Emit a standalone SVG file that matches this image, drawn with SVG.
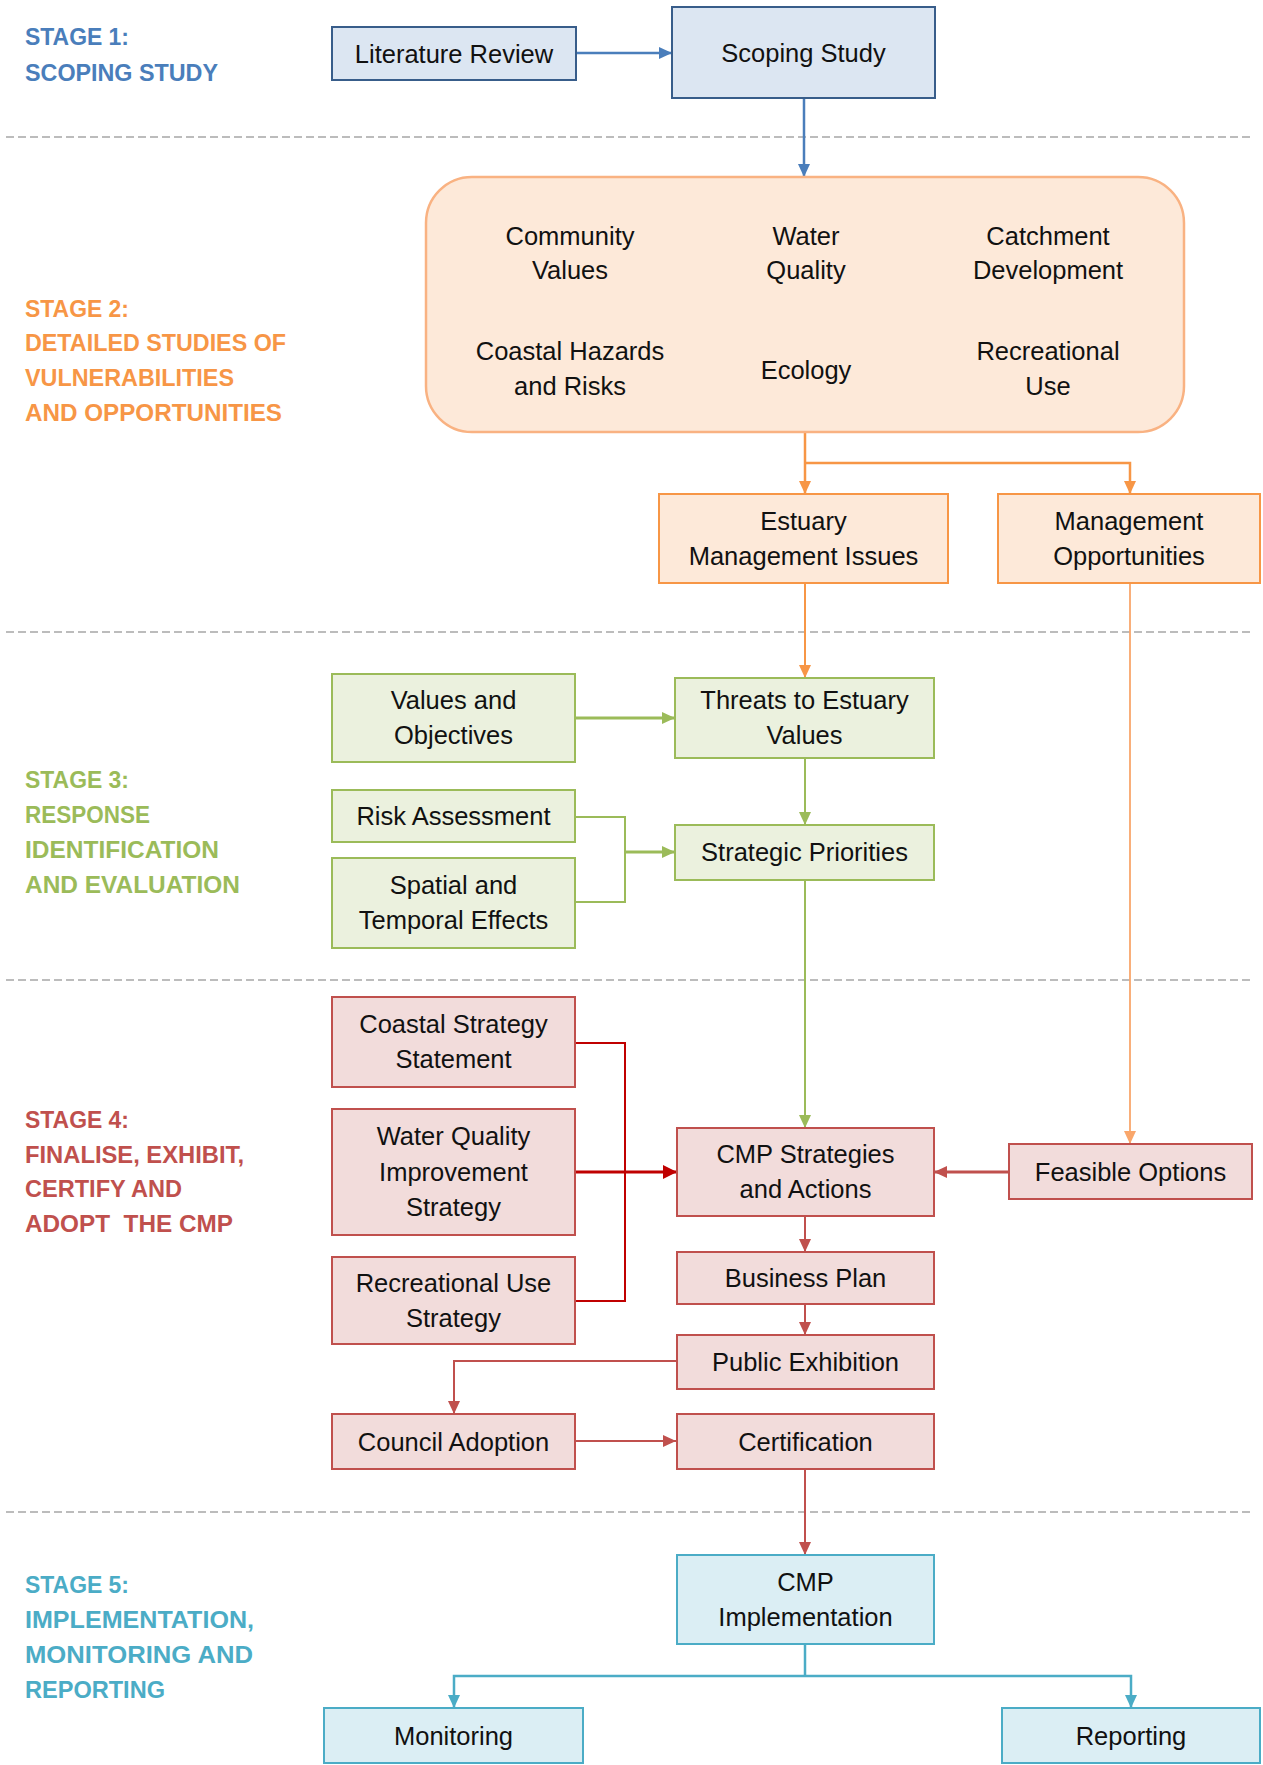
<svg xmlns="http://www.w3.org/2000/svg" width="1263" height="1765" viewBox="0 0 1263 1765">
<style>
.lbl{font-family:"Liberation Sans",Arial,sans-serif;font-weight:bold;font-size:24px}
.t{font-family:"Liberation Sans",Arial,sans-serif;font-size:25.5px;fill:#111;text-anchor:middle}
.div{stroke:#a6a6a6;stroke-width:1.5;stroke-dasharray:8 4;fill:none}
.b1{fill:#dce6f2;stroke:#385d8a;stroke-width:2}
.b2{fill:#fde9d9;stroke:#f79646;stroke-width:2}
.b3{fill:#ebf1de;stroke:#9bbb59;stroke-width:2}
.b4{fill:#f2dcdb;stroke:#c0504d;stroke-width:2}
.b5{fill:#dbeef4;stroke:#4bacc6;stroke-width:2}
.c{fill:none}
</style>
<defs>
<marker id="aBlue" markerUnits="userSpaceOnUse" markerWidth="14" markerHeight="12" refX="13" refY="6" orient="auto"><path d="M0,0 L13,6 L0,12 z" fill="#4a7ebb"/></marker>
<marker id="aOr" markerUnits="userSpaceOnUse" markerWidth="14" markerHeight="12" refX="13" refY="6" orient="auto"><path d="M0,0 L13,6 L0,12 z" fill="#f79646"/></marker>
<marker id="aOrL" markerUnits="userSpaceOnUse" markerWidth="14" markerHeight="12" refX="13" refY="6" orient="auto"><path d="M0,0 L13,6 L0,12 z" fill="#f9a66b"/></marker>
<marker id="aGr" markerUnits="userSpaceOnUse" markerWidth="14" markerHeight="12" refX="13" refY="6" orient="auto"><path d="M0,0 L13,6 L0,12 z" fill="#9bbb59"/></marker>
<marker id="aRd" markerUnits="userSpaceOnUse" markerWidth="14" markerHeight="12" refX="13" refY="6" orient="auto"><path d="M0,0 L13,6 L0,12 z" fill="#c0504d"/></marker>
<marker id="aDR" markerUnits="userSpaceOnUse" markerWidth="15" markerHeight="14" refX="14" refY="7" orient="auto"><path d="M0,0 L14,7 L0,14 z" fill="#c00000"/></marker>
<marker id="aAq" markerUnits="userSpaceOnUse" markerWidth="14" markerHeight="12" refX="13" refY="6" orient="auto"><path d="M0,0 L13,6 L0,12 z" fill="#4bacc6"/></marker>
</defs>
<rect width="1263" height="1765" fill="#ffffff"/>

<g id="dividers">
<line class="div" x1="6" y1="137" x2="1252" y2="137"/>
<line class="div" x1="6" y1="632" x2="1252" y2="632"/>
<line class="div" x1="6" y1="980" x2="1252" y2="980"/>
<line class="div" x1="6" y1="1512" x2="1252" y2="1512"/>
</g>

<g id="stage-labels" class="lbl">
<g fill="#4a7ebb">
<text x="25" y="45" textLength="104" lengthAdjust="spacingAndGlyphs">STAGE 1:</text>
<text x="25" y="81" textLength="193" lengthAdjust="spacingAndGlyphs">SCOPING STUDY</text>
</g>
<g fill="#f79646">
<text x="25" y="317" textLength="104" lengthAdjust="spacingAndGlyphs">STAGE 2:</text>
<text x="25" y="351" textLength="261" lengthAdjust="spacingAndGlyphs">DETAILED STUDIES OF</text>
<text x="25" y="386" textLength="209" lengthAdjust="spacingAndGlyphs">VULNERABILITIES</text>
<text x="25" y="421" textLength="257" lengthAdjust="spacingAndGlyphs">AND OPPORTUNITIES</text>
</g>
<g fill="#9bbb59">
<text x="25" y="788" textLength="104" lengthAdjust="spacingAndGlyphs">STAGE 3:</text>
<text x="25" y="823" textLength="125" lengthAdjust="spacingAndGlyphs">RESPONSE</text>
<text x="25" y="858" textLength="194" lengthAdjust="spacingAndGlyphs">IDENTIFICATION</text>
<text x="25" y="893" textLength="215" lengthAdjust="spacingAndGlyphs">AND EVALUATION</text>
</g>
<g fill="#c0504d">
<text x="25" y="1128" textLength="104" lengthAdjust="spacingAndGlyphs">STAGE 4:</text>
<text x="25" y="1163" textLength="219" lengthAdjust="spacingAndGlyphs">FINALISE, EXHIBIT,</text>
<text x="25" y="1197" textLength="157" lengthAdjust="spacingAndGlyphs">CERTIFY AND</text>
<text x="25" y="1232" textLength="208" lengthAdjust="spacingAndGlyphs" xml:space="preserve">ADOPT  THE CMP</text>
</g>
<g fill="#4bacc6">
<text x="25" y="1593" textLength="104" lengthAdjust="spacingAndGlyphs">STAGE 5:</text>
<text x="25" y="1628" textLength="229" lengthAdjust="spacingAndGlyphs">IMPLEMENTATION,</text>
<text x="25" y="1663" textLength="228" lengthAdjust="spacingAndGlyphs">MONITORING AND</text>
<text x="25" y="1698" textLength="140" lengthAdjust="spacingAndGlyphs">REPORTING</text>
</g>
</g>

<g id="connectors" class="c">
<line x1="577" y1="53" x2="672" y2="53" stroke="#4a7ebb" stroke-width="2.5" marker-end="url(#aBlue)"/>
<line x1="804" y1="98" x2="804" y2="177" stroke="#4a7ebb" stroke-width="2.5" marker-end="url(#aBlue)"/>
<line x1="805" y1="432" x2="805" y2="494" stroke="#f79646" stroke-width="2.5" marker-end="url(#aOr)"/>
<polyline points="805,463 1130,463 1130,494" stroke="#f79646" stroke-width="2.5" marker-end="url(#aOr)"/>
<line x1="805" y1="583" x2="805" y2="678" stroke="#f79646" stroke-width="2" marker-end="url(#aOr)"/>
<line x1="1130" y1="583" x2="1130" y2="1144" stroke="#f9a66b" stroke-width="1.8" marker-end="url(#aOrL)"/>
<line x1="575" y1="718" x2="675" y2="718" stroke="#9bbb59" stroke-width="3" marker-end="url(#aGr)"/>
<line x1="805" y1="758" x2="805" y2="825" stroke="#9bbb59" stroke-width="2" marker-end="url(#aGr)"/>
<polyline points="575,817 625,817 625,902 575,902" stroke="#9bbb59" stroke-width="2"/>
<line x1="625" y1="852" x2="675" y2="852" stroke="#9bbb59" stroke-width="3" marker-end="url(#aGr)"/>
<line x1="805" y1="880" x2="805" y2="1128" stroke="#9bbb59" stroke-width="2" marker-end="url(#aGr)"/>
<polyline points="575,1043 625,1043 625,1301 575,1301" stroke="#c00000" stroke-width="2"/>
<line x1="575" y1="1172" x2="677" y2="1172" stroke="#c00000" stroke-width="3" marker-end="url(#aDR)"/>
<line x1="1009" y1="1172" x2="934" y2="1172" stroke="#c0504d" stroke-width="3" marker-end="url(#aRd)"/>
<line x1="805" y1="1216" x2="805" y2="1252" stroke="#c0504d" stroke-width="2" marker-end="url(#aRd)"/>
<line x1="805" y1="1304" x2="805" y2="1335" stroke="#c0504d" stroke-width="2" marker-end="url(#aRd)"/>
<polyline points="676,1361 454,1361 454,1414" stroke="#c0504d" stroke-width="2" marker-end="url(#aRd)"/>
<line x1="575" y1="1441" x2="676" y2="1441" stroke="#c0504d" stroke-width="2" marker-end="url(#aRd)"/>
<line x1="805" y1="1469" x2="805" y2="1555" stroke="#c0504d" stroke-width="2" marker-end="url(#aRd)"/>
<line x1="805" y1="1644" x2="805" y2="1676" stroke="#4bacc6" stroke-width="2.5"/>
<polyline points="805,1676 454,1676 454,1708" stroke="#4bacc6" stroke-width="2.5" marker-end="url(#aAq)"/>
<polyline points="805,1676 1131,1676 1131,1708" stroke="#4bacc6" stroke-width="2.5" marker-end="url(#aAq)"/>
</g>

<g id="literature-review"><rect class="b1" x="332" y="27" width="244" height="53"/><text class="t" x="454" y="62.5">Literature Review</text></g>
<g id="scoping-study"><rect class="b1" x="672" y="7" width="263" height="91"/><text class="t" x="803.5" y="61.5">Scoping Study</text></g>

<g id="detailed-studies">
<rect x="426" y="177" width="758" height="255" rx="46" ry="46" fill="#fde9d9" stroke="#f9b282" stroke-width="2.5"/>
<text class="t" x="570" y="245">Community</text><text class="t" x="570" y="279">Values</text>
<text class="t" x="806" y="245">Water</text><text class="t" x="806" y="279">Quality</text>
<text class="t" x="1048" y="245">Catchment</text><text class="t" x="1048" y="279">Development</text>
<text class="t" x="570" y="360">Coastal Hazards</text><text class="t" x="570" y="395">and Risks</text>
<text class="t" x="806" y="379">Ecology</text>
<text class="t" x="1048" y="360">Recreational</text><text class="t" x="1048" y="395">Use</text>
</g>

<g id="estuary-management-issues"><rect class="b2" x="659" y="494" width="289" height="89"/><text class="t" x="803.5" y="530">Estuary</text><text class="t" x="803.5" y="565">Management Issues</text></g>
<g id="management-opportunities"><rect class="b2" x="998" y="494" width="262" height="89"/><text class="t" x="1129" y="530">Management</text><text class="t" x="1129" y="565">Opportunities</text></g>

<g id="values-objectives"><rect class="b3" x="332" y="674" width="243" height="88"/><text class="t" x="453.5" y="709">Values and</text><text class="t" x="453.5" y="744">Objectives</text></g>
<g id="threats"><rect class="b3" x="675" y="678" width="259" height="80"/><text class="t" x="804.5" y="709">Threats to Estuary</text><text class="t" x="804.5" y="744">Values</text></g>
<g id="risk-assessment"><rect class="b3" x="332" y="790" width="243" height="52"/><text class="t" x="453.5" y="825">Risk Assessment</text></g>
<g id="spatial-temporal"><rect class="b3" x="332" y="858" width="243" height="90"/><text class="t" x="453.5" y="894">Spatial and</text><text class="t" x="453.5" y="929">Temporal Effects</text></g>
<g id="strategic-priorities"><rect class="b3" x="675" y="825" width="259" height="55"/><text class="t" x="804.5" y="861">Strategic Priorities</text></g>

<g id="coastal-strategy"><rect class="b4" x="332" y="997" width="243" height="90"/><text class="t" x="453.5" y="1033">Coastal Strategy</text><text class="t" x="453.5" y="1068">Statement</text></g>
<g id="water-quality-strategy"><rect class="b4" x="332" y="1109" width="243" height="126"/><text class="t" x="453.5" y="1145">Water Quality</text><text class="t" x="453.5" y="1181">Improvement</text><text class="t" x="453.5" y="1216">Strategy</text></g>
<g id="recreational-use-strategy"><rect class="b4" x="332" y="1257" width="243" height="87"/><text class="t" x="453.5" y="1291.5">Recreational Use</text><text class="t" x="453.5" y="1326.5">Strategy</text></g>
<g id="cmp-strategies"><rect class="b4" x="677" y="1128" width="257" height="88"/><text class="t" x="805.5" y="1163">CMP Strategies</text><text class="t" x="805.5" y="1198">and Actions</text></g>
<g id="feasible-options"><rect class="b4" x="1009" y="1144" width="243" height="55"/><text class="t" x="1130.5" y="1180.5">Feasible Options</text></g>
<g id="business-plan"><rect class="b4" x="677" y="1252" width="257" height="52"/><text class="t" x="805.5" y="1287">Business Plan</text></g>
<g id="public-exhibition"><rect class="b4" x="677" y="1335" width="257" height="54"/><text class="t" x="805.5" y="1371">Public Exhibition</text></g>
<g id="council-adoption"><rect class="b4" x="332" y="1414" width="243" height="55"/><text class="t" x="453.5" y="1450.5">Council Adoption</text></g>
<g id="certification"><rect class="b4" x="677" y="1414" width="257" height="55"/><text class="t" x="805.5" y="1450.5">Certification</text></g>

<g id="cmp-implementation"><rect class="b5" x="677" y="1555" width="257" height="89"/><text class="t" x="805.5" y="1590.5">CMP</text><text class="t" x="805.5" y="1625.5">Implementation</text></g>
<g id="monitoring"><rect class="b5" x="324" y="1708" width="259" height="55"/><text class="t" x="453.5" y="1744.5">Monitoring</text></g>
<g id="reporting"><rect class="b5" x="1002" y="1708" width="258" height="55"/><text class="t" x="1131" y="1744.5">Reporting</text></g>
</svg>
